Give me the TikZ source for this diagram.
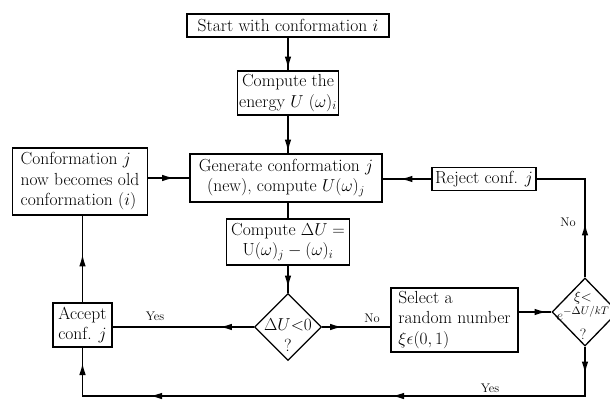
\documentclass[tikz,border=0pt]{standalone}
\usepackage{fontspec}
\usetikzlibrary{arrows.meta,shapes.geometric}
\begin{document}
\begin{tikzpicture}[x=1pt,y=-1pt,
 box/.style={draw, line width=1.3pt, inner sep=1pt, font=\fontsize{17.5}{20.5}\selectfont},
 dia/.style={draw, diamond, line width=1.3pt, inner sep=0pt},
 txt/.style={inner sep=0pt, font=\fontsize{17.5}{20.5}\selectfont, align=center},
 flow/.style={line width=1.3pt},
 arr/.style={line width=1.3pt, -{Latex[length=12pt,width=6.5pt]}},
 lbl/.style={inner sep=0pt, font=\fontsize{12.5}{14}\selectfont}]
\useasboundingbox (0,0) rectangle (610,400);
\clip (0,0) rectangle (610,400);

\node[box, minimum width=202, minimum height=23] (start) at (288,25.5) {Start with conformation $i$};
\node[box, align=center, minimum width=101, minimum height=44] (energy) at (288,93) {Compute the\\energy $U$ $(\omega)_i$};
\node[box, align=center, minimum width=192, minimum height=48] (gen) at (286,178) {Generate conformation $j$\\(new), compute $U(\omega)_j$};
\node[box, align=left, minimum width=135, minimum height=67] (conf) at (80,181.5) {Conformation $j$\\now becomes old\\conformation $(i)$};
\node[box, minimum width=104, minimum height=23] (rej) at (484,179) {Reject conf. $j$};
\node[box, align=center, minimum width=123, minimum height=46] (du) at (288,242) {Compute $\Delta U =$\\U$(\omega)_j-(\omega)_i$};
\node[dia, minimum width=67, minimum height=67] (d1) at (288,327) {};
\node[txt] (d1t) at (288,335) {$\Delta U{<}0$\\?};
\node[box, align=left, minimum width=127, minimum height=64] (sel) at (454.5,320) {Select a\\random number\\$\xi\epsilon(0,1)$};
\node[box, align=left, minimum width=59, minimum height=44] (acc) at (82.5,325) {Accept\\conf. $j$};
\node[dia, minimum width=66, minimum height=68] (d2) at (585,312) {};
\node[txt, font=\fontsize{15}{19}\selectfont] (d2t) at (583,315) {$\xi{<}$\\$e^{-\Delta U/kT}$\\?};
\coordinate (bot) at (0,396);

% connectors
\draw[flow] (start.south) -- (start.south |- energy.north);
\draw[arr] (start.south) -- ++(0,31);
\draw[flow] (energy.south) -- (energy.south |- gen.north);
\draw[arr] (energy.south) -- ++(0,36);
\draw[flow] (gen.south -| du.north) -- (du.north);
\draw[flow] (du.south) -- (d1.north);
\draw[arr] (du.south) -- ++(0,22);
\draw[flow] (d1.west) -- (acc.east |- d1.west);
\draw[arr] (d1.west) -- ++(-34,0);
\draw[flow] (d1.east) -- (sel.west |- d1.east);
\draw[arr] (d1.east) -- ++(20,0);
\draw[flow] (sel.east |- d2.west) -- (d2.west);
\draw[arr] (sel.east |- d2.west) -- ++(28,0);
\draw[flow] (conf.east |- gen.west) -- (gen.west);
\draw[arr] (conf.east |- gen.west) -- ++(26,0);
\draw[flow] (rej.west) -- (rej.west -| gen.east);
\draw[arr] (rej.west) -- ++(-31,0);
\draw[flow] (d2.north) -- (d2.north |- rej.east) -- (rej.east);
\draw[arr] (d2.north) -- ++(0,-54);
\draw[flow] (acc.north) -- (acc.north |- conf.south);
\draw[arr] (acc.north) -- ++(0,-48);
\draw[flow] (d2.south) -- (d2.south |- bot) -- (acc.south |- bot) -- (acc.south);
\draw[arr] (d2.south) -- ++(0,27);
\draw[arr] (d2.south |- bot) -- ++(-193,0);
\draw[arr] (d2.south |- bot) -- ++(-435,0);
\draw[arr] (acc.south |- bot) -- ++(0,-33);

% labels
\node[lbl] (yes1) at (155,316) {Yes};
\node[lbl] (no1) at (372,318) {No};
\node[lbl] (no2) at (568,222) {No};
\node[lbl] (yes2) at (490,388) {Yes};
\end{tikzpicture}
\end{document}
